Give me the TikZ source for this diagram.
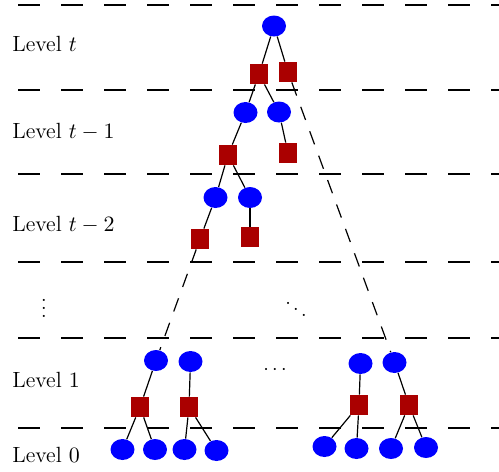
\documentclass[tikz,border=0pt]{standalone}
\usetikzlibrary{shapes.geometric}
\definecolor{boxred}{RGB}{170,0,0}
\begin{document}
\begin{tikzpicture}[x=0.5pt,y=0.5pt,yscale=-1,xscale=1,
    ellnode/.style={ellipse,fill=blue,minimum width=12pt,minimum height=10.5pt,inner sep=0pt},
    sqnode/.style={rectangle,fill=boxred,minimum width=9pt,minimum height=10pt,inner sep=0pt},
    edge/.style={semithick},
    longedge/.style={semithick,dash pattern=on 7pt off 6pt},
    levelline/.style={thick,dash pattern=on 11pt off 10.5pt},
    lbl/.style={anchor=west,inner sep=0pt,font=\fontsize{11}{13}\selectfont}]
\useasboundingbox (0,0) rectangle (499,472);
%Level lines
\foreach \yy in {5,90,174,262,338,428}
  \draw [levelline] (18,\yy) -- (499,\yy) ;

% Text Node
\node [lbl] (lt) at (12,44) {Level $t$};
% Text Node
\node [lbl] (lt1) at (12,132) {Level $t-1$};
% Text Node
\node [lbl] (lt2) at (12,225) {Level $t-2$};
% Text Node
\node [lbl] (l1) at (12,380) {Level $1$};
% Text Node
\node [lbl] (l0) at (12,455) {Level $0$};

%Level t
\node [ellnode] (r) at (274,26) {};
\node [sqnode] (rA) at (259,74) {};
\node [sqnode] (rB) at (288,72) {};
%Level t-1
\node [ellnode] (a1) at (245.5,112.5) {};
\node [ellnode] (a2) at (279,112) {};
\node [sqnode] (a1A) at (228,155) {};
\node [sqnode] (a2A) at (288,153) {};
%Level t-2
\node [ellnode] (b1) at (215.5,197.5) {};
\node [ellnode] (b2) at (250,197.5) {};
\node [sqnode] (b1A) at (200,239) {};
\node [sqnode] (b2A) at (250,237) {};
%Level 1
\node [ellnode] (c1) at (156,360.5) {};
\node [ellnode] (c2) at (190.5,361.5) {};
\node [ellnode] (c3) at (360.5,363.5) {};
\node [ellnode] (c4) at (394.5,362.5) {};
\node [sqnode] (c1A) at (140,407) {};
\node [sqnode] (c2A) at (189,407) {};
\node [sqnode] (c3A) at (359,405) {};
\node [sqnode] (c4A) at (409,405) {};
%Level 0
\node [ellnode] (d1) at (122.5,449.5) {};
\node [ellnode] (d2) at (155,449.5) {};
\node [ellnode] (d3) at (184.5,449.5) {};
\node [ellnode] (d4) at (216.5,450.5) {};
\node [ellnode] (d5) at (324.5,446.5) {};
\node [ellnode] (d6) at (356.5,448.5) {};
\node [ellnode] (d7) at (391,448.5) {};
\node [ellnode] (d8) at (426,447.5) {};

%Dots
\node (vd) at (44,302) {$\vdots$};
\node (dd) at (296,303) {$\ddots$};
\node (cd) at (275,370) {$\cdots$};

%Edges
\draw [edge] (r) -- (rA) ;
\draw [edge] (r) -- (rB) ;
\draw [edge] (rA) -- (a1) ;
\draw [edge] (rA) -- (a2) ;
\draw [edge] (a1) -- (a1A) ;
\draw [edge] (a2) -- (a2A) ;
\draw [edge] (a1A) -- (b1) ;
\draw [edge] (a1A) -- (b2) ;
\draw [edge] (b1) -- (b1A) ;
\draw [edge] (b2) -- (b2A) ;
\draw [longedge] (b1A) -- (c1) ;
\draw [longedge] (rB) -- (c4) ;
\draw [edge] (c1) -- (c1A) ;
\draw [edge] (c2) -- (c2A) ;
\draw [edge] (c3) -- (c3A) ;
\draw [edge] (c4) -- (c4A) ;
\draw [edge] (c1A) -- (d1) ;
\draw [edge] (c1A) -- (d2) ;
\draw [edge] (c2A) -- (d3) ;
\draw [edge] (c2A) -- (d4) ;
\draw [edge] (c3A) -- (d5) ;
\draw [edge] (c3A) -- (d6) ;
\draw [edge] (c4A) -- (d7) ;
\draw [edge] (c4A) -- (d8) ;
\end{tikzpicture}
\end{document}
